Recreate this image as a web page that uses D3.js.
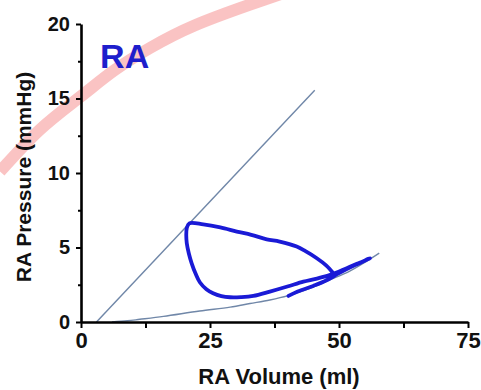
<!DOCTYPE html>
<html>
<head>
<meta charset="utf-8">
<script src="https://cdn.jsdelivr.net/npm/d3@7"></script>
<style>
  html, body { margin: 0; padding: 0; background: #fff; }
  svg { display: block; font-family: "Liberation Sans", Arial, sans-serif; }
</style>
</head>
<body>
<svg id="chart" width="481" height="390"></svg>
<script>
// ---- data ----
const xMajorTicks = [0, 25, 50, 75];
const xMinorTicks = [12.5, 37.5, 62.5];
const yMajorTicks = [0, 5, 10, 15, 20];
const yMinorTicks = [2.5, 7.5, 12.5, 17.5];

// End-systolic line (straight)
const espvrVolume = [3.0, 45.3];
const espvrPressure = [0, 15.55];

// End-diastolic curve
const edpvrVolume   = [6.0, 9.0, 11.4, 16.0, 23.0, 28.9, 32.75, 36.6, 40.0, 44.0, 48.0, 52.0, 55.0, 57.8];
const edpvrPressure = [0.0, 0.08, 0.18, 0.38, 0.74, 1.0, 1.24, 1.48, 1.75, 2.2, 2.8, 3.4, 4.0, 4.62];

// RA pressure-volume loop trace
const loopVolume = [
  48.9, 47.5, 45.7, 43.5, 41.8, 38.5, 36.0, 33.0, 30.2, 27.0, 23.7, 21.0,
  20.5, 20.4, 20.5, 20.9, 21.45, 22.2, 23.06, 24.3, 25.6, 27.2, 28.9, 31.0, 33.4,
  36.6, 40.0, 43.1, 45.5, 48.3, 51.5, 54.0, 56.0,
  53.0, 50.0, 47.5, 45.0, 42.0, 40.2
];
const loopPressure = [
  3.27, 3.8, 4.28, 4.75, 5.06, 5.4, 5.55, 5.85, 6.07, 6.35, 6.55, 6.62,
  6.3, 5.8, 5.29, 4.6, 3.94, 3.25, 2.65, 2.2, 1.93, 1.74, 1.66, 1.67, 1.75,
  2.04, 2.38, 2.71, 2.9, 3.16, 3.61, 3.98, 4.28,
  3.8, 3.28, 2.78, 2.42, 2.05, 1.75
];

// Decorative pink arc (watermark stroke), in data units
const arcVolume   = [-15.7, -8.0, -0.2, 6.5, 13.4, 22.0, 32.75, 38.6];
const arcPressure = [10.1, 12.9, 15.1, 16.9, 18.4, 19.9, 21.3, 22.0];

const panelLabel = "RA";
const xTitle = "RA Volume (ml)";
const yTitle = "RA Pressure (mmHg)";

// ---- drawing ----
const svg = d3.select("#chart");
const x = d3.scaleLinear().domain([0, 75]).range([81, 468]);
const y = d3.scaleLinear().domain([0, 20]).range([322, 24]);

const toPts = (xs, ys) => xs.map((v, i) => [v, ys[i]]);
const lineGen = (curve) => d3.line().x(d => x(d[0])).y(d => y(d[1])).curve(curve);

// pink arc behind
svg.append("path")
  .attr("d", lineGen(d3.curveNatural)(toPts(arcVolume, arcPressure)))
  .attr("fill", "none")
  .attr("stroke", "#f9b8b8")
  .attr("stroke-opacity", 0.85)
  .attr("stroke-width", 12);

// ESPVR line
svg.append("path")
  .attr("d", lineGen(d3.curveLinear)(toPts(espvrVolume, espvrPressure)))
  .attr("fill", "none")
  .attr("stroke", "#7087a8")
  .attr("stroke-width", 1.4);

// EDPVR curve
svg.append("path")
  .attr("d", lineGen(d3.curveCatmullRom.alpha(0.5))(toPts(edpvrVolume, edpvrPressure)))
  .attr("fill", "none")
  .attr("stroke", "#7087a8")
  .attr("stroke-width", 1.4);

// PV loop
svg.append("path")
  .attr("d", lineGen(d3.curveCatmullRom.alpha(0.5))(toPts(loopVolume, loopPressure)))
  .attr("fill", "none")
  .attr("stroke", "#1a1ad6")
  .attr("stroke-width", 3.8)
  .attr("stroke-linejoin", "round")
  .attr("stroke-linecap", "round");

// axes
svg.append("g")
  .attr("class", "xaxis")
  .attr("transform", `translate(0,${y(0)})`)
  .call(d3.axisBottom(x).tickValues(xMajorTicks).tickFormat(d3.format("d")).tickSize(6).tickSizeOuter(0).tickPadding(4));
svg.append("g")
  .attr("transform", `translate(0,${y(0)})`)
  .call(d3.axisBottom(x).tickValues(xMinorTicks).tickFormat("").tickSize(6).tickSizeOuter(0))
  .select(".domain").remove();

svg.append("g")
  .attr("class", "yaxis")
  .attr("transform", `translate(${x(0)},0)`)
  .call(d3.axisLeft(y).tickValues(yMajorTicks).tickFormat(d3.format("d")).tickSize(5).tickSizeOuter(0).tickPadding(6));
svg.append("g")
  .attr("transform", `translate(${x(0)},0)`)
  .call(d3.axisLeft(y).tickValues(yMinorTicks).tickFormat("").tickSize(3).tickSizeOuter(0))
  .select(".domain").remove();

svg.selectAll(".domain").attr("stroke", "#000").attr("stroke-width", 2.6);
svg.selectAll(".tick line").attr("stroke", "#000").attr("stroke-width", 2);
svg.selectAll(".tick text")
  .attr("fill", "#111")
  .style("font-family", '"Liberation Sans", Arial, sans-serif')
  .style("font-weight", "bold");
svg.selectAll(".xaxis .tick text").style("font-size", "22px");
svg.selectAll(".yaxis .tick text").style("font-size", "20px");

// axis titles
svg.append("text")
  .attr("x", 279).attr("y", 384)
  .attr("text-anchor", "middle")
  .style("font-size", "22px").style("font-weight", "bold")
  .attr("fill", "#111")
  .text(xTitle);

svg.append("text")
  .attr("transform", "translate(31,177) rotate(-90)")
  .attr("text-anchor", "middle")
  .style("font-size", "21px").style("font-weight", "bold")
  .attr("fill", "#111")
  .text(yTitle);

// panel label
svg.append("text")
  .attr("x", x(3.7)).attr("y", y(17.05))
  .style("font-size", "34px").style("font-weight", "bold")
  .attr("fill", "#1e1ecc")
  .text(panelLabel);
</script>
</body>
</html>
